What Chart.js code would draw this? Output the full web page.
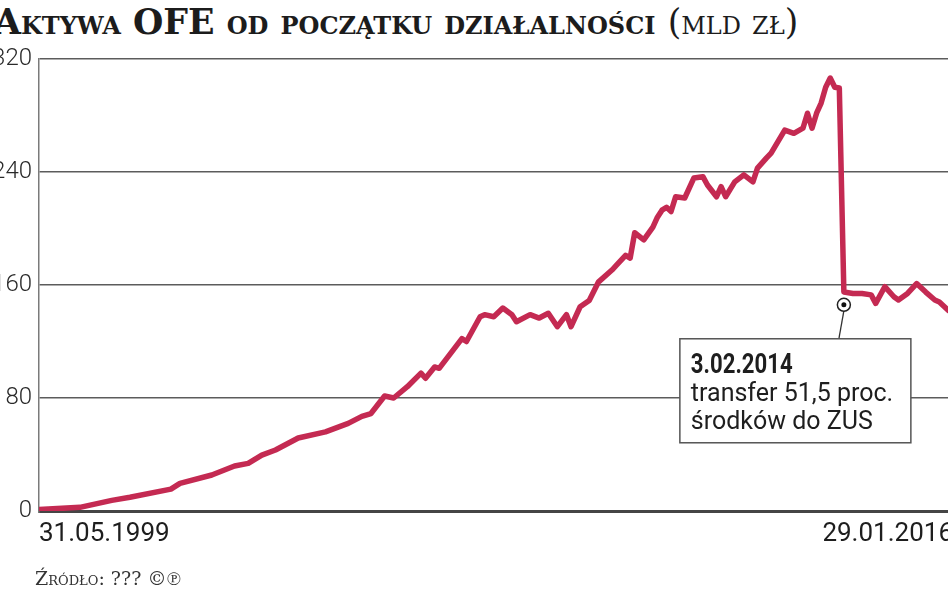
<!DOCTYPE html>
<html lang="pl">
<head>
<meta charset="UTF-8">
<title>Aktywa OFE od początku działalności</title>
<script src="https://cdn.jsdelivr.net/npm/chart.js@4.4.0/dist/chart.umd.min.js"></script>
<style>
    html, body {
        margin: 0;
        padding: 0;
        background: #fff;
        width: 948px;
        height: 593px;
        overflow: hidden;
        position: relative;
    }
    .title {
        position: absolute;
        left: -6px;
        top: 1px;
        font-family: 'DejaVu Serif', serif;
        font-weight: bold;
        font-size: 34.8px;
        font-variant: small-caps;
        color: #1c1c1c;
        white-space: nowrap;
    }
    .title .light { font-weight: normal; }
    .source {
        position: absolute;
        left: 35px;
        top: 567px;
        font-family: 'DejaVu Serif', serif;
        font-size: 19px;
        font-variant: small-caps;
        color: #333;
        white-space: nowrap;
    }
    .wrap {
        position: absolute;
        left: -8px;
        top: 0;
        width: 975px;
        height: 593px;
    }
</style>
</head>
<body>
<div class="title">Aktywa OFE od początku działalności <span class="light">(mld zł)</span></div>
<div class="wrap"><canvas id="chart"></canvas></div>
<div class="source">Źródło: ??? ©℗</div>

<script>
// monthly readings, mld zł
const dates = [
    '1999-05', '2000-02', '2000-09', '2001-01', '2001-10', '2001-12', '2002-07', '2002-12',
    '2003-03', '2003-06', '2003-09', '2004-02', '2004-08', '2005-01', '2005-04', '2005-06',
    '2005-09', '2005-11', '2006-02', '2006-05', '2006-06', '2006-08', '2006-09', '2007-02',
    '2007-03', '2007-06', '2007-07', '2007-09', '2007-11', '2008-01', '2008-02', '2008-05',
    '2008-07', '2008-09', '2008-11', '2009-01', '2009-02', '2009-04', '2009-06', '2009-08',
    '2009-11', '2009-12', '2010-02', '2010-03', '2010-04', '2010-06', '2010-08', '2010-09',
    '2010-10', '2010-11', '2010-12', '2011-01', '2011-03', '2011-05', '2011-07', '2011-08',
    '2011-10', '2011-11', '2011-12', '2012-02', '2012-04', '2012-06', '2012-07', '2012-09',
    '2012-10', '2013-01', '2013-03', '2013-05', '2013-06', '2013-07', '2013-08', '2013-09',
    '2013-10', '2013-11', '2013-12', '2014-01', '2014-02', '2014-04', '2014-06', '2014-08',
    '2014-09', '2014-11', '2015-01', '2015-02', '2015-04', '2015-06', '2015-08', '2015-10',
    '2015-11', '2016-01'
];
const values = [
    1.0, 2.6, 7.5, 9.7, 15.5, 19.6, 25.5, 31.9,
    33.7, 39.6, 43.2, 51.7, 56, 62, 67, 69,
    81.4, 80, 88, 97.6, 94, 102, 101, 122,
    120, 137.5, 139, 137.5, 143.7, 139, 134, 139,
    136.6, 140, 130.5, 139, 130.5, 144.6, 149, 162,
    170.6, 174, 181, 179, 197, 192, 201, 208,
    213, 215, 212, 222.5, 221.6, 235.7, 236.7, 230.8,
    222.5, 229.6, 222.5, 233, 238, 233, 242.8, 250,
    253.4, 269.7, 267.4, 271, 281.6, 271, 281.6, 288.8,
    300, 306.5, 300, 299.5, 155, 154, 154, 153,
    147, 158.8, 151.7, 149.4, 154, 161, 155, 149.4,
    148, 142
];
const yTicks = [0, 80, 160, 240, 320];
const xTickLabels = ['31.05.1999', '29.01.2016'];
const xRange = ['1999-05', '2016-02'];

const eventDate = '2014-02';
const eventValue = 146;
const eventLines = ['3.02.2014', 'transfer 51,5 proc.', 'środków do ZUS'];

const sans = "'Roboto', 'DejaVu Sans', sans-serif";

function monthIndex(d) {
    const [y, m] = d.split('-').map(Number);
    return (y - 1999) * 12 + (m - 5);
}

const points = dates.map((d, i) => ({ x: monthIndex(d), y: values[i] }));

// callout box for the 3.02.2014 transfer
const calloutPlugin = {
    id: 'callout',
    afterDatasetsDraw(chart) {
        const { ctx, scales: { x, y } } = chart;
        const px = x.getPixelForValue(monthIndex(eventDate));
        const py = y.getPixelForValue(eventValue);
        const boxL = px - 164, boxT = py + 34, boxW = 231, boxH = 104;

        ctx.save();
        ctx.strokeStyle = '#333';
        ctx.lineWidth = 1.3;
        ctx.beginPath();
        ctx.moveTo(px, py + 6);
        ctx.lineTo(px - 5, boxT);
        ctx.stroke();

        ctx.fillStyle = '#fff';
        ctx.fillRect(boxL, boxT, boxW, boxH);
        ctx.strokeStyle = '#555';
        ctx.lineWidth = 1.5;
        ctx.strokeRect(boxL, boxT, boxW, boxH);

        ctx.fillStyle = '#1e1e1e';
        ctx.textBaseline = 'alphabetic';
        ctx.textAlign = 'left';
        // narrow the bold date a bit, like the condensed face in the original
        ctx.save();
        ctx.translate(boxL + 11, boxT + 34);
        ctx.scale(0.82, 1);
        ctx.font = 'bold 27px ' + sans;
        ctx.fillText(eventLines[0], 0, 0);
        ctx.restore();
        ctx.font = '25px ' + sans;
        ctx.fillText(eventLines[1], boxL + 11, boxT + 62);
        ctx.fillText(eventLines[2], boxL + 11, boxT + 90);

        ctx.beginPath();
        ctx.arc(px, py, 6.5, 0, Math.PI * 2);
        ctx.fillStyle = '#fff';
        ctx.fill();
        ctx.strokeStyle = '#222';
        ctx.lineWidth = 1.5;
        ctx.stroke();
        ctx.beginPath();
        ctx.arc(px, py, 2.5, 0, Math.PI * 2);
        ctx.fillStyle = '#111';
        ctx.fill();
        ctx.restore();
    }
};

new Chart(document.getElementById('chart'), {
    type: 'line',
    data: {
        datasets: [{
            data: points,
            borderColor: '#c42a52',
            borderWidth: 5.5,
            borderJoinStyle: 'round',
            borderCapStyle: 'round',
            pointRadius: 0,
            tension: 0
        }]
    },
    options: {
        responsive: true,
        maintainAspectRatio: false,
        animation: false,
        layout: { padding: { left: 0, right: 14, top: 59, bottom: 42 } },
        plugins: {
            legend: { display: false },
            tooltip: { enabled: false }
        },
        scales: {
            x: {
                type: 'linear',
                min: monthIndex(xRange[0]),
                max: monthIndex(xRange[1]),
                afterBuildTicks: s => { s.ticks = [{ value: s.min }, { value: s.max }]; },
                afterFit: s => { s.height = 40; },
                grid: { display: false, drawTicks: false },
                border: { display: true, color: '#454545', width: 3 },
                ticks: {
                    align: 'inner',
                    padding: 8,
                    maxRotation: 0,
                    autoSkip: false,
                    color: '#1e1e1e',
                    font: { family: sans, size: 26, weight: '400' },
                    callback: (v, i) => xTickLabels[i]
                }
            },
            y: {
                min: 0,
                max: 320,
                afterBuildTicks: s => { s.ticks = yTicks.map(v => ({ value: v })); },
                afterFit: s => { s.width = 47; },
                grid: {
                    drawTicks: false,
                    color: c => c.tick && c.tick.value === 0 ? '#454545' : '#5c5c5c',
                    lineWidth: c => c.tick && c.tick.value === 0 ? 3 : 1.6
                },
                border: { display: true, color: '#7a7a7a', width: 1.5 },
                ticks: {
                    padding: 7,
                    color: '#2a2a2a',
                    font: { family: sans, size: 24, weight: '300' }
                }
            }
        }
    },
    plugins: [calloutPlugin]
});
</script>
</body>
</html>
